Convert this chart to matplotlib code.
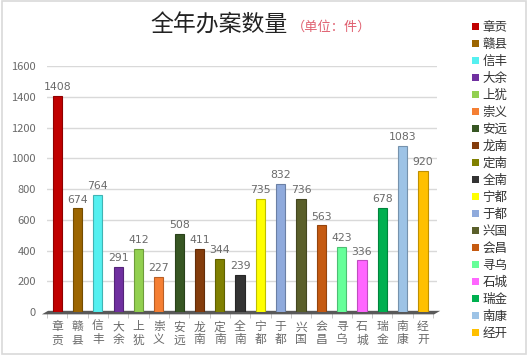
import matplotlib.pyplot as plt
import matplotlib.colors as mcolors
from matplotlib.patches import Patch, Polygon, Rectangle

plt.rcParams['font.family'] = ['Noto Sans CJK SC', 'DejaVu Sans']

counties = ['章贡', '赣县', '信丰', '大余', '上犹', '崇义', '安远', '龙南', '定南', '全南',
            '宁都', '于都', '兴国', '会昌', '寻乌', '石城', '瑞金', '南康', '经开']
cases = [1408, 674, 764, 291, 412, 227, 508, 411, 344, 239,
         735, 832, 736, 563, 423, 336, 678, 1083, 920]
colors = ['#c00000', '#9c6500', '#55f0f0', '#7030a0', '#92d050', '#f57f33', '#375623',
          '#843c0c', '#808000', '#333333', '#ffff00', '#8faadc', '#5a5f2a', '#c55a11',
          '#66ff99', '#ff66ff', '#00b050', '#9dc3e6', '#ffc000']
yticks = [0, 200, 400, 600, 800, 1000, 1200, 1400, 1600]


def darker(c, f=0.75):
    r, g, b = mcolors.to_rgb(c)
    return (r * f, g * f, b * f)


fig = plt.figure(figsize=(5.28, 3.55), dpi=100)
fig.patches.append(Rectangle((0.003, 0.003), 0.994, 0.994, transform=fig.transFigure,
                             fill=False, edgecolor='#d9d9d9', linewidth=1.2))
ax = fig.add_axes([0.089, 0.121, 0.739, 0.693])

x = list(range(len(counties)))
ax.bar(x, cases, width=0.45, color=colors, edgecolor=[darker(c) for c in colors],
       linewidth=0.8, zorder=3)
for xi, v in zip(x, cases):
    ax.text(xi, v + 25, str(v), ha='center', va='bottom', fontsize=7.8,
            color='#6a6a6a', family='DejaVu Sans')

# floor
floor = Polygon([(-0.75, -15), (18.55, -15), (18.85, 8), (-0.45, 8)],
                closed=True, facecolor='#595959', edgecolor='none', zorder=2, clip_on=False)
ax.add_patch(floor)

ax.set_xlim(-0.5, 18.7)
ax.set_ylim(0, 1600)
ax.set_yticks(yticks)
ax.set_yticklabels([str(t) for t in yticks], fontsize=8, color='#6a6a6a')
ax.set_xticks(x)
ax.set_xticklabels(['\n'.join(c) for c in counties], fontsize=8.5, color='#6a6a6a',
                   linespacing=1.0)
ax.set_xticks([i - 0.5 for i in range(len(counties) + 1)], minor=True)
ax.tick_params(axis='x', which='major', length=0, pad=6)
ax.tick_params(axis='x', which='minor', length=4, color='#bfbfbf')
ax.tick_params(axis='y', length=0, pad=8)
ax.yaxis.grid(True, color='#d9d9d9', linewidth=1.0, zorder=0)
for s in ax.spines.values():
    s.set_visible(False)

fig.text(0.284, 0.93, '全年办案数量', fontsize=16.5, color='#222222', va='center')
fig.text(0.553, 0.922, '（单位：件）', fontsize=9.5, color='#e06070', va='center')

handles = [Patch(facecolor=c, edgecolor='none') for c in colors]
fig.legend(handles, counties, loc='upper left', bbox_to_anchor=(0.885, 0.955),
           frameon=False, fontsize=9, handlelength=0.55, handleheight=0.55,
           handletextpad=0.25, labelspacing=0.32, borderaxespad=0, labelcolor='#333333')

fig.savefig('out.png', dpi=100)
